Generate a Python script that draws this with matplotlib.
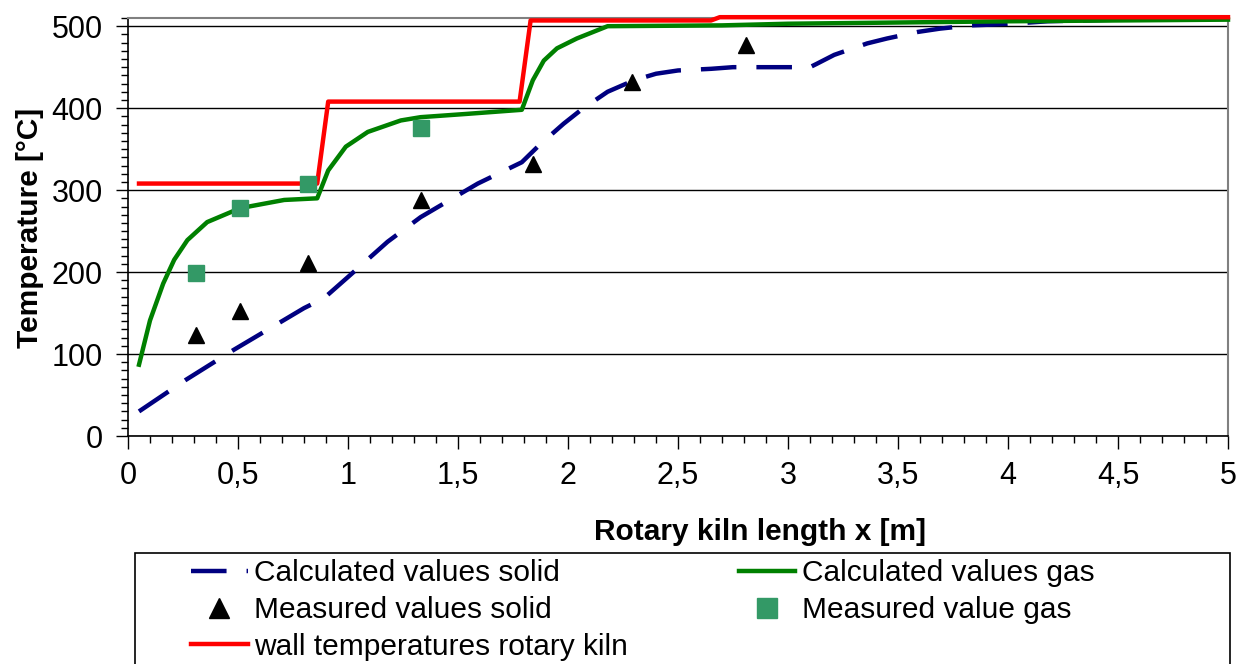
import matplotlib
matplotlib.use('Agg')
import matplotlib.pyplot as plt
from matplotlib.ticker import MultipleLocator
from matplotlib.patches import Rectangle

plt.rcParams['font.family'] = ['Liberation Sans', 'DejaVu Sans']

# Calculated values solid
solid_x = [0.05, 0.26, 0.48, 0.8, 0.89, 1.0, 1.18, 1.33, 1.59, 1.79, 1.87, 1.98, 2.06, 2.18,
           2.3, 2.4, 2.5, 2.65, 2.75, 3.1, 3.13, 3.21, 3.36, 3.45, 3.59, 3.69, 3.83, 3.93,
           4.07, 4.18, 4.5, 5.0]
solid_y = [30, 68, 105, 156, 168, 194, 237, 267, 308, 334, 355, 381, 398, 420,
           434, 442, 446, 448, 450, 450, 454, 465, 479, 485, 493, 497, 501, 502,
           504, 506, 508, 509]

# Calculated values gas
gas_x = [0.05, 0.1, 0.16, 0.21, 0.27, 0.36, 0.51, 0.71, 0.86, 0.91, 0.99, 1.09, 1.24, 1.33,
         1.54, 1.79, 1.84, 1.89, 1.95, 2.04, 2.18, 2.7, 3.0, 4.0, 5.0]
gas_y = [87, 141, 186, 215, 239, 261, 278, 288, 290, 324, 353, 371, 385, 389,
         393, 398, 434, 458, 473, 485, 500, 501, 503, 506, 508]

# wall temperatures rotary kiln
wall_x = [0.05, 0.86, 0.91, 1.78, 1.83, 2.65, 2.69, 5.0]
wall_y = [308, 308, 408, 408, 507, 507, 511, 511]

# measured points
meas_solid_x = [0.31, 0.51, 0.82, 1.33, 1.84, 2.29, 2.81]
meas_solid_y = [123, 152, 211, 288, 332, 432, 477]
meas_gas_x = [0.31, 0.51, 0.82, 1.33]
meas_gas_y = [199, 278, 307, 376]

x_ticks = [0, 0.5, 1, 1.5, 2, 2.5, 3, 3.5, 4, 4.5, 5]
x_ticklabels = ['0', '0,5', '1', '1,5', '2', '2,5', '3', '3,5', '4', '4,5', '5']
y_ticks = [0, 100, 200, 300, 400, 500]

fig = plt.figure(figsize=(12.48, 6.64), dpi=100)
ax = fig.add_axes([128/1248, 1 - 436/664, 1100/1248, 418/664])

l_solid, = ax.plot(solid_x, solid_y, color='#000080', lw=3.2, dashes=(8, 4.5),
                   label='Calculated values solid', clip_on=False, zorder=3)
l_gas, = ax.plot(gas_x, gas_y, color='#008000', lw=3.2,
                 label='Calculated values gas', clip_on=False, zorder=3)
l_wall, = ax.plot(wall_x, wall_y, color='#ff0000', lw=3.2,
                  label='wall temperatures rotary kiln', clip_on=False, zorder=4)
m_solid, = ax.plot(meas_solid_x, meas_solid_y, ls='none', marker='^', color='black',
                   ms=12, label='Measured values solid', zorder=5)
m_gas, = ax.plot(meas_gas_x, meas_gas_y, ls='none', marker='s', color='#339966',
                 ms=12, label='Measured value gas', zorder=5)

ax.set_xlim(0, 5)
ax.set_ylim(0, 510)
ax.set_xticks(x_ticks)
ax.set_xticklabels(x_ticklabels)
ax.set_yticks(y_ticks)
ax.xaxis.set_minor_locator(MultipleLocator(0.1))
ax.yaxis.set_minor_locator(MultipleLocator(10))
ax.tick_params(which='major', direction='out', length=9, width=1, labelsize=22, pad=9)
ax.tick_params(which='minor', direction='out', length=5, width=1)
ax.grid(axis='y', which='major', color='black', lw=1)
ax.set_axisbelow(True)

for side in ['top', 'right']:
    ax.spines[side].set_color('#808080')
    ax.spines[side].set_linewidth(1.5)
for side in ['left', 'bottom']:
    ax.spines[side].set_color('black')
    ax.spines[side].set_linewidth(1.2)

ax.set_xlabel('Rotary kiln length x [m]', fontsize=21.5, fontweight='bold')
ax.set_ylabel('Temperature [°C]', fontsize=21.5, fontweight='bold')
ax.xaxis.set_label_coords((760 - 128)/1100, (436 - 518)/418)
ax.yaxis.set_label_coords((44 - 128)/1100, (436 - 228)/418)

# legend box (cut off by the bottom edge like the original)
fig.patches.append(Rectangle((135/1248, -0.02), (1230 - 135)/1248, (664 - 553)/664 + 0.02,
                             transform=fig.transFigure, fill=False, ec='black', lw=1.2))

leg = fig.legend([l_solid, m_solid, l_wall, l_gas, m_gas],
                 ['Calculated values solid', 'Measured values solid',
                  'wall temperatures rotary kiln', 'Calculated values gas',
                  'Measured value gas'],
                 loc='upper left', bbox_to_anchor=(191/1248, 1 - 559/664),
                 ncol=2, fontsize=21.5, frameon=False, markerscale=1.15,
                 handlelength=1.9, handletextpad=0.22, columnspacing=3.7,
                 labelspacing=0.3, borderpad=0, borderaxespad=0)

fig.savefig('out.png', dpi=100)
